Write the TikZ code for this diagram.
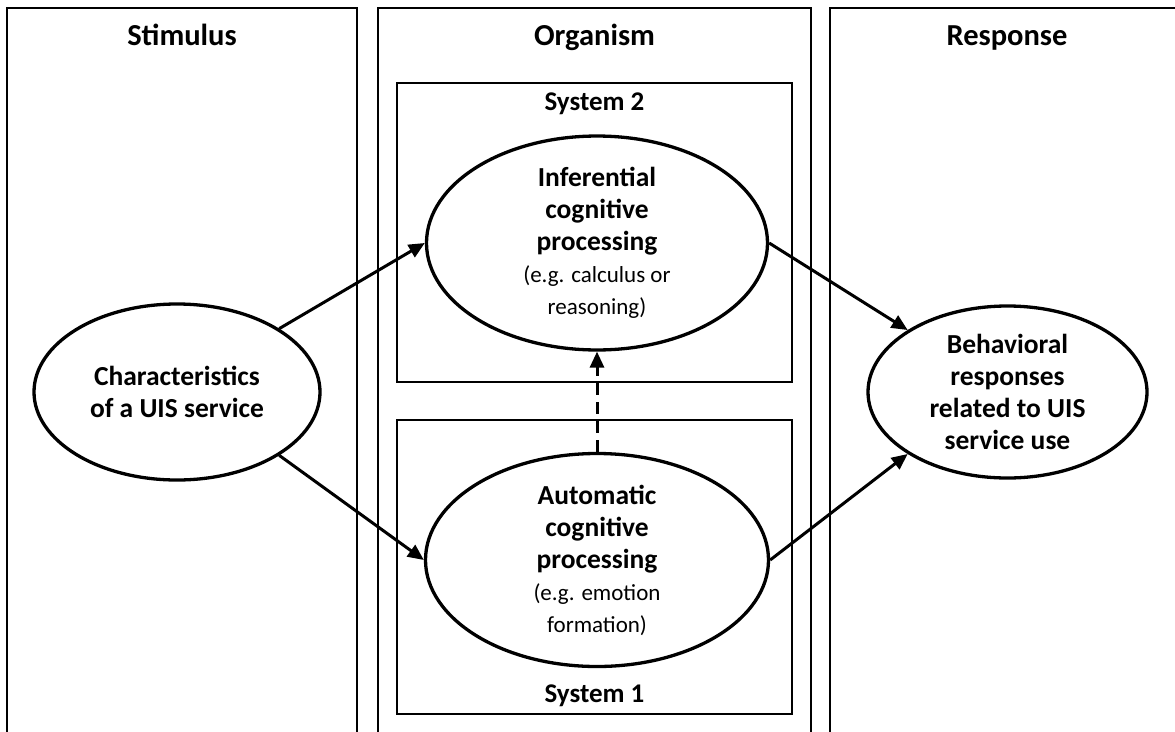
\documentclass[tikz,border=0pt]{standalone}
\usepackage{fontspec}
\setmainfont{Carlito}
\usetikzlibrary{shapes.geometric,arrows.meta}
\tikzset{
  panel/.style={line width=2pt},
  sysbox/.style={line width=2.6pt},
  oval/.style={ellipse, draw, line width=3.3pt, inner sep=0pt, align=center,
    font=\fontsize{27.5}{32}\selectfont\bfseries},
  title/.style={anchor=base, font=\fontsize{30.5}{34}\selectfont\bfseries},
  systitle/.style={anchor=base, font=\fontsize{27}{30}\selectfont\bfseries},
  conn/.style={line width=3pt, -{Triangle[length=16pt,width=14pt]}},
}
\newcommand{\smalltxt}[1]{{\mdseries\fontsize{23}{29}\selectfont #1}}
\begin{document}
\begin{tikzpicture}[x=1pt,y=-1pt]
\useasboundingbox (0,0) rectangle (1175,731);
% panels
\draw[panel] (7,745) -- (7,8) -- (357,8) -- (357,745);
\draw[panel] (378,745) -- (378,8) -- (811,8) -- (811,745);
\draw[panel] (830,745) -- (830,8) -- (1190,8) -- (1190,745);
\node[title] (tstim) at (182,45) {Stimulus};
\node[title] (torg) at (594.5,45) {Organism};
\node[title] (tresp) at (1007,45) {Response};
% system boxes
\draw[sysbox] (397,83) rectangle (792,382);
\draw[sysbox] (397,420) rectangle (792,714);
\node[systitle] (ts2) at (594.5,110) {System 2};
\node[systitle] (ts1) at (594.5,702) {System 1};
% ellipses
\node[oval, minimum width=286pt, minimum height=176pt] (char) at (177,392)
  {Characteristics\\of a UIS service};
\node[oval, minimum width=341pt, minimum height=208pt] (inf) at (597,243)
  {Inferential\\cognitive\\processing\\\smalltxt{(e.g. calculus or}\\\smalltxt{reasoning)}};
\node[oval, minimum width=343pt, minimum height=213pt] (auto) at (597,560)
  {Automatic\\cognitive\\processing\\\smalltxt{(e.g. emotion}\\\smalltxt{formation)}};
\node[oval, minimum width=279pt, minimum height=172pt] (beh) at (1007.5,392)
  {Behavioral\\responses\\related to UIS\\service use};
% connectors
\draw[conn] (char.north east) -- (inf.west);
\draw[conn] (char.south east) -- (auto.west);
\draw[conn] (inf.east) -- (beh.north west);
\draw[conn] (auto.east) -- (beh.south west);
\draw[conn, dash pattern=on 12pt off 7pt] (auto.north) -- (inf.south);
\end{tikzpicture}
\end{document}
